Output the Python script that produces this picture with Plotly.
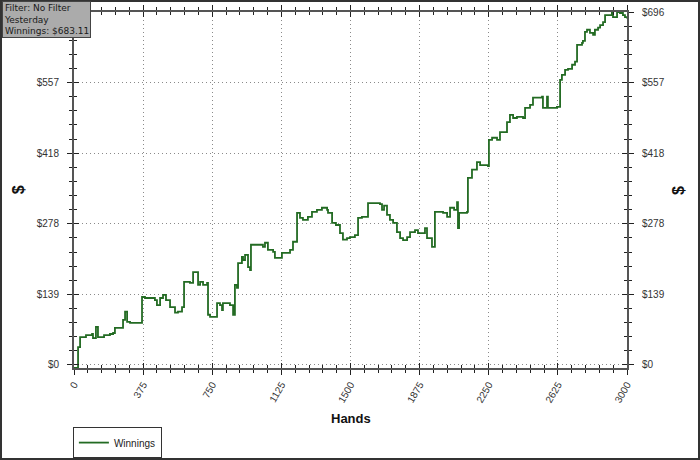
import plotly.graph_objects as go

# Cumulative winnings
hands = [0, 16, 22, 33, 65, 98, 103, 119, 130, 163, 195, 212, 222, 250, 266, 277, 288, 304, 358,
         369, 385, 439, 450, 467, 483, 499, 521, 548, 564, 586, 597, 629, 646, 667, 673, 684, 700,
         722, 727, 738, 765, 776, 792, 803, 808, 846, 863, 873, 884, 890, 911, 917, 928, 944, 955,
         960, 1009, 1025, 1036, 1052, 1080, 1090, 1118, 1128, 1172, 1188, 1210, 1226, 1242, 1269,
         1291, 1318, 1345, 1373, 1378, 1400, 1421, 1443, 1459, 1481, 1497, 1524, 1541, 1562, 1584,
         1595, 1633, 1660, 1671, 1682, 1698, 1714, 1731, 1752, 1769, 1785, 1807, 1823, 1850, 1866,
         1904, 1915, 1942, 1958, 2002, 2024, 2040, 2062, 2078, 2083, 2089, 2132, 2137, 2159, 2186,
         2203, 2246, 2251, 2268, 2295, 2311, 2327, 2349, 2365, 2382, 2403, 2436, 2447, 2474, 2490,
         2512, 2539, 2544, 2566, 2571, 2593, 2620, 2631, 2637, 2647, 2664, 2680, 2702, 2718, 2729,
         2756, 2761, 2772, 2783, 2799, 2816, 2826, 2843, 2854, 2870, 2881, 2902, 2918, 2924, 2946,
         2962, 2978, 2989, 3000]
winnings = [-6, -6, 35, 55, 59, 61, 53, 75, 55, 59, 61, 63, 73, 73, 89, 105, 85, 83, 83,
            134, 132, 128, 118, 132, 138, 128, 114, 103, 105, 114, 164, 162, 183, 183, 158, 164, 158,
            162, 99, 95, 95, 122, 118, 108, 122, 118, 99, 158, 152, 201, 213, 207, 217, 193, 187,
            237, 237, 233, 241, 227, 223, 211, 211, 221, 227, 243, 300, 290, 286, 292,
            302, 306, 310, 306, 300, 280, 276, 260, 247, 250, 252, 256, 290, 292, 292,
            319, 319, 317, 306, 314, 296, 286, 280, 262, 250, 246, 252, 262, 266, 260,
            270, 250, 233, 302, 300, 292, 310, 306, 321, 270, 300, 302, 369, 385, 400,
            394, 392, 444, 448, 444, 459, 459, 479, 493, 487, 489, 487, 507, 513, 527,
            527, 529, 507, 529, 507, 507, 509, 509, 562, 572, 582, 584, 592, 598, 631,
            635, 639, 657, 661, 655, 651, 661, 665, 670, 676, 690, 690, 694, 686, 696,
            694, 690, 686, 683.11]

x_ticks = [0, 375, 750, 1125, 1500, 1875, 2250, 2625, 3000]
y_ticks = [0, 139.2, 278.4, 417.6, 556.8, 696]
y_labels = ["$0", "$139", "$278", "$418", "$557", "$696"]

Y_RANGE = [-6, 696]
X_RANGE = [0, 3000]
AXIS_COL = "#555555"
TICK_COL = "#222222"
GRID_COL = "#8a8a8a"
FONT = "Liberation Sans, Arial, sans-serif"

fig = go.Figure()
fig.add_trace(go.Scatter(
    x=hands, y=winnings, mode="lines", name="Winnings",
    line=dict(color="#236b23", width=1.8, shape="hv"),
    hoverinfo="skip"
))

tick_font = dict(family=FONT, size=10, color="#333333")

fig.update_layout(
    width=700, height=460,
    paper_bgcolor="white", plot_bgcolor="white",
    margin=dict(l=74, r=73, t=12, b=92, autoexpand=False),
    font=dict(family=FONT, color="#222222"),
    xaxis=dict(
        range=X_RANGE, tickmode="array", tickvals=x_ticks,
        ticktext=[str(v) for v in x_ticks], tickangle=-60,
        tickfont=tick_font, ticks="outside", ticklen=5, tickcolor=TICK_COL,
        minor=dict(ticks="outside", ticklen=3, dtick=75, tick0=0, tickcolor=TICK_COL, showgrid=False),
        showline=True, linecolor=AXIS_COL, linewidth=2, mirror="ticks",
        showgrid=True, gridcolor=GRID_COL, griddash="1px,3px", gridwidth=1,
        zeroline=False, automargin=False
    ),
    xaxis2=dict(
        range=X_RANGE, overlaying="x", anchor="y", side="bottom",
        tickmode="array", tickvals=x_ticks, showticklabels=False,
        ticks="inside", ticklen=5, tickcolor=TICK_COL,
        minor=dict(ticks="inside", ticklen=3, dtick=75, tick0=0, tickcolor=TICK_COL),
        mirror="ticks", showline=True, linecolor=AXIS_COL, linewidth=2,
        showgrid=False, zeroline=False, automargin=False
    ),
    yaxis=dict(
        range=Y_RANGE, tickmode="array", tickvals=y_ticks, ticktext=y_labels,
        tickfont=tick_font, ticks="outside", ticklen=5, tickcolor=TICK_COL,
        minor=dict(ticks="outside", ticklen=3, dtick=27.84, tick0=0, tickcolor=TICK_COL, showgrid=False),
        showline=True, linecolor=AXIS_COL, linewidth=2,
        showgrid=True, gridcolor=GRID_COL, griddash="1px,3px", gridwidth=1,
        zeroline=False, ticklabelstandoff=6, automargin=False
    ),
    yaxis2=dict(
        range=Y_RANGE, overlaying="y", anchor="x", side="right",
        tickmode="array", tickvals=y_ticks, ticktext=y_labels,
        tickfont=tick_font, ticks="outside", ticklen=5, tickcolor=TICK_COL,
        minor=dict(ticks="outside", ticklen=3, dtick=27.84, tick0=0, tickcolor=TICK_COL),
        showline=True, linecolor=AXIS_COL, linewidth=2,
        showgrid=False, zeroline=False, ticklabelstandoff=6, automargin=False
    ),
    yaxis3=dict(
        range=Y_RANGE, overlaying="y", anchor="x", side="left",
        tickmode="array", tickvals=y_ticks, showticklabels=False,
        ticks="inside", ticklen=5, tickcolor=TICK_COL,
        minor=dict(ticks="inside", ticklen=3, dtick=27.84, tick0=0, tickcolor=TICK_COL),
        mirror="ticks", showgrid=False, zeroline=False, automargin=False
    ),
    showlegend=True,
    legend=dict(
        x=-0.002, y=-0.166, xanchor="left", yanchor="top",
        bordercolor="#333333", borderwidth=1, bgcolor="white",
        font=dict(family=FONT, size=10, color="#222222"),
        itemwidth=30, tracegroupgap=0
    ),
)

# empty traces so the overlay axes are drawn
fig.add_trace(go.Scatter(x=[None], y=[None], xaxis="x2", yaxis="y3", showlegend=False, hoverinfo="skip"))
fig.add_trace(go.Scatter(x=[None], y=[None], xaxis="x", yaxis="y2", showlegend=False, hoverinfo="skip"))

fig.add_annotation(
    text="<b>Hands</b>", xref="paper", yref="paper", x=0.5, y=-0.143,
    xanchor="center", yanchor="middle", showarrow=False,
    font=dict(family=FONT, size=13, color="#111111")
)
for xp in [-0.101, 1.092]:
    fig.add_annotation(
        text="<b>$</b>", xref="paper", yref="paper", x=xp, y=0.5,
        xanchor="center", yanchor="middle", showarrow=False, textangle=-90,
        font=dict(family=FONT, size=16, color="#111111")
    )

# info box top left
fig.add_annotation(
    text="Filter: No Filter<br>Yesterday<br>Winnings: $683.11",
    xref="paper", yref="paper", x=-0.131, y=1.03,
    xanchor="left", yanchor="top", align="left", showarrow=False,
    bgcolor="#ababab", bordercolor="#444444", borderwidth=1, borderpad=1,
    font=dict(family="DejaVu Sans, sans-serif", size=9, color="#1a1a1a")
)

# outer frame of the picture
fig.add_shape(
    type="rect", xref="paper", yref="paper",
    x0=-0.1320, x1=1.1302, y0=-0.2556, y1=1.0309,
    line=dict(color="#333333", width=2), fillcolor="rgba(0,0,0,0)", layer="above"
)

fig.write_html("out.html", config={"displayModeBar": False},
               post_script="document.body.style.margin='0';")
